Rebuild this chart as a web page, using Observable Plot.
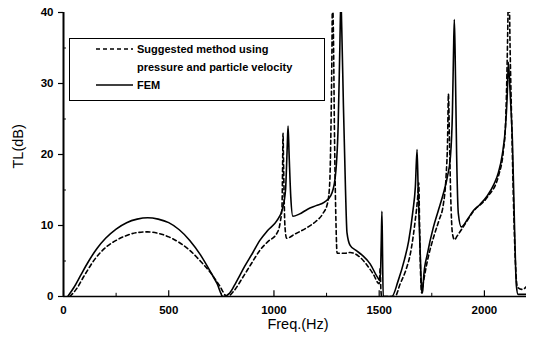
<!DOCTYPE html>
<html><head><meta charset="utf-8">
<script src="https://cdn.jsdelivr.net/npm/d3@7"></script>
<script src="https://cdn.jsdelivr.net/npm/@observablehq/plot@0.6"></script>
<style>
body{margin:0;background:#fff;}
#wrap{position:relative;width:535px;height:340px;font-family:"Liberation Sans",Arial,sans-serif;}
#legend{position:absolute;left:69px;top:38px;}
</style></head><body><div id="wrap"></div>
<script>
// FEM (solid)
const femFreq = [20,50,80,120,160,200,250,300,350,400,450,500,550,600,650,700,730,758,
  790,820,860,900,933,970,1014,1040,1055,1063,1067,1072,1080,1090,1120,1160,1200,1240,1270,1290,1305,1313,1318,1322,1330,1340,1347,1362,1390,1420,1457,1490,1505,1510,1513,1516,1519,
  1560,1590,1620,1640,1660,1672,1680,1686,1694,1702,1706,1712,1729,1757,1780,1805,1825,1838,1848,1853,1857,1861,1868,1876,1890,1920,1948,1980,2014,2045,2067,2085,2100,2108,2114,2120,2127,2133,2143,2152,2160,2200];
const femTL = [0,1.3,2.9,5,6.8,8.2,9.5,10.4,10.9,11.1,10.9,10.4,9.4,7.9,5.9,3.4,1.8,0,
  0.5,2,4.2,6.2,7.9,9.3,10.7,12.3,15,21,24,20,14,11.3,11.6,12.3,12.8,13.3,14.2,16.5,24,35,42,38,27,15,9,7.2,6.5,5.8,4.6,2.8,2.2,8,12,6,0,
  0,2.2,5.2,7.8,12,15.5,20.7,14,7,1,0.5,3,6,9.7,12,14.5,17,19.5,26,34,39,34,20,11.7,9.8,10.9,12.1,13,14.2,15.8,17.5,20,23.8,28,33,30,26,22,10,1.5,0.3,0.3];
// Suggested method (dashed)
const sugFreq = [30,60,100,150,200,250,300,350,400,450,500,550,600,650,700,740,778,
  810,850,890,933,970,1014,1030,1038,1041,1043,1046,1052,1060,1100,1157,1200,1233,1255,1265,1271,1275,1278,1282,1288,1295,1300,1340,1362,1410,1440,1471,1500,1505,1508,1512,
  1575,1600,1630,1648,1670,1683,1688,1692,1697,1702,1710,1729,1760,1785,1805,1818,1825,1829,1834,1840,1848,1858,1870,1895,1948,2014,2067,2090,2100,2106,2110,2114,2118,2122,2130,2138,2147,2157,2180,2200];
const sugTL = [0,1,3,5.3,6.9,7.9,8.6,9,9.1,8.9,8.4,7.6,6.5,5,3.3,1.6,0,
  0.8,2.6,4.5,6.5,7.7,8.9,10.5,12.5,18,23,18,10,8.2,8.8,9.7,10.6,11.7,13.2,16,24,33,42,38,22,10,6.1,6.1,6.2,5.5,4.5,3.2,1.8,4,1,0,
  0,1.8,4,6,10.4,14,16,10,3,0.5,2,5,8.5,10.8,13,17,22,28.5,22,14,8.9,8,8.5,9.6,12,14,17,20.5,24,30,36,42,42,35,24,13.5,5,1.3,1,1.4];

const xMajor = [0,500,1000,1500,2000];
const xMinor = [250,750,1250,1750];
const yMajor = [0,10,20,30,40];
const yMinor = [5,15,25,35];
const legendLabels = ["Suggested method using","pressure and particle velocity","FEM"];

const fem = femFreq.map((f,i)=>({f, tl: femTL[i]}));
const sug = sugFreq.map((f,i)=>({f, tl: sugTL[i]}));

const chart = Plot.plot({
  width:535, height:340,
  marginLeft:63, marginRight:9, marginTop:12, marginBottom:44,
  style:{fontFamily:"'Liberation Sans', Arial, sans-serif", fontSize:"11px", background:"#fff", color:"#000"},
  x:{domain:[0,2200]},
  y:{domain:[0,40]},
  marks:[
    Plot.line(sug, {x:"f", y:"tl", stroke:"#000", strokeWidth:1.6, strokeDasharray:"4,3", clip:true, curve:"monotone-x"}),
    Plot.line(fem, {x:"f", y:"tl", stroke:"#000", strokeWidth:1.6, clip:true, curve:"monotone-x"}),
    Plot.ruleY([0], {stroke:"#000", strokeWidth:1.6}),
    Plot.ruleX([0], {stroke:"#000", strokeWidth:2}),
    Plot.axisY(yMajor, {tickSize:5, tickPadding:5, label:null, fontWeight:"bold", fontSize:11.5, strokeWidth:1.2, tickFormat:d=>String(d)}),
    Plot.axisX(xMajor, {tickSize:0, tickPadding:9, label:null, fontWeight:"bold", fontSize:11.5, tickFormat:d=>String(d)}),
    Plot.ruleX(xMajor, {x:d=>d, y1:0, y2:0.8, stroke:"#000", strokeWidth:1.2}),
    Plot.ruleX(xMinor, {x:d=>d, y1:0, y2:0.45, stroke:"#000", strokeWidth:1}),
    Plot.ruleY(yMinor, {y:d=>d, x1:0, x2:14, stroke:"#000", strokeWidth:1}),
    Plot.text(["TL(dB)"], {frameAnchor:"left", dx:-45, dy:14, rotate:-90, fontSize:14.5, fill:"#000"}),
    Plot.text(["Freq.(Hz)"], {frameAnchor:"bottom", dx:3, dy:32, fontSize:14.5, fill:"#000"})
  ]
});
const wrap = document.getElementById("wrap");
wrap.appendChild(chart);

// Legend
const ns = "http://www.w3.org/2000/svg";
const lg = document.createElementNS(ns, "svg");
lg.setAttribute("id","legend");
lg.setAttribute("width","256"); lg.setAttribute("height","63");
const rect = document.createElementNS(ns,"rect");
rect.setAttribute("x","0.5"); rect.setAttribute("y","0.5");
rect.setAttribute("width","255"); rect.setAttribute("height","62");
rect.setAttribute("fill","#fff"); rect.setAttribute("stroke","#000"); rect.setAttribute("stroke-width","1");
lg.appendChild(rect);
const rows = [{y:11, dash:"4,3"}, {y:29, dash:null}, {y:47, dash:"none"}];
legendLabels.forEach((t,i)=>{
  const r = rows[i];
  if (r.dash !== null) {
    const ln = document.createElementNS(ns,"line");
    ln.setAttribute("x1","27"); ln.setAttribute("x2","64");
    ln.setAttribute("y1", r.y); ln.setAttribute("y2", r.y);
    ln.setAttribute("stroke","#000"); ln.setAttribute("stroke-width","1.6");
    if (r.dash !== "none") ln.setAttribute("stroke-dasharray", r.dash);
    lg.appendChild(ln);
  }
  const tx = document.createElementNS(ns,"text");
  tx.setAttribute("x","68"); tx.setAttribute("y", r.y);
  tx.setAttribute("dy","0.35em");
  tx.setAttribute("font-family","'Liberation Sans', Arial, sans-serif");
  tx.setAttribute("font-size","11"); tx.setAttribute("font-weight","bold");
  tx.textContent = t;
  lg.appendChild(tx);
});
wrap.appendChild(lg);
</script></body></html>
